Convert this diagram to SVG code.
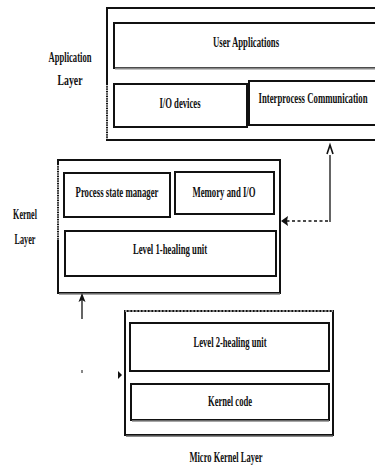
<svg xmlns="http://www.w3.org/2000/svg" width="375" height="467" viewBox="0 0 375 467">
<style>
.box{fill:#fff;stroke:#111;stroke-width:2}
.t{font-family:"Liberation Serif",serif;font-size:14px;fill:#111;text-anchor:middle;font-weight:bold}
.conn{fill:none;stroke:#111;stroke-width:1.3}
</style>
<rect width="375" height="467" fill="#fff"/>

<g id="application-layer">
<rect class="box" x="107" y="8" width="269" height="132"/>
<line x1="107" y1="85" x2="107" y2="140" stroke="#fff" stroke-width="1.5" stroke-dasharray="1.2 1.2"/>
<g transform="translate(70,62) scale(0.58,1)"><text class="t" textLength="74" lengthAdjust="spacingAndGlyphs">Application</text></g>
<g transform="translate(70,85) scale(0.58,1)"><text class="t" textLength="43" lengthAdjust="spacingAndGlyphs">Layer</text></g>
</g>
<g id="user-applications">
<rect class="box" x="114" y="23" width="262" height="45"/>
<line x1="115" y1="68.5" x2="375" y2="68.5" stroke="#888" stroke-width="2"/>
<g transform="translate(246,47) scale(0.58,1)"><text class="t" textLength="114" lengthAdjust="spacingAndGlyphs">User Applications</text></g>
</g>
<g id="io-devices">
<rect class="box" x="114" y="84" width="133" height="43"/>
<g transform="translate(180,108) scale(0.58,1)"><text class="t" textLength="71" lengthAdjust="spacingAndGlyphs">I/O devices</text></g>
</g>
<g id="ipc">
<rect class="box" x="249" y="81" width="127" height="44"/>
<g transform="translate(313,103) scale(0.58,1)"><text class="t" textLength="188" lengthAdjust="spacingAndGlyphs">Interprocess Communication</text></g>
</g>

<g id="kernel-layer">
<rect class="box" x="58" y="160" width="222" height="133"/>
<line x1="58" y1="165" x2="58" y2="240" stroke="#fff" stroke-width="1.5" stroke-dasharray="1.2 1.2"/>
<line x1="59" y1="294" x2="280" y2="294" stroke="#888" stroke-width="1.5"/>
<g transform="translate(25,219) scale(0.58,1)"><text class="t" textLength="41" lengthAdjust="spacingAndGlyphs">Kernel</text></g>
<g transform="translate(25,244) scale(0.58,1)"><text class="t" textLength="36" lengthAdjust="spacingAndGlyphs">Layer</text></g>
</g>
<g id="process-state-manager">
<rect class="box" x="64" y="173" width="106" height="44"/>
<g transform="translate(117,197) scale(0.58,1)"><text class="t" textLength="143" lengthAdjust="spacingAndGlyphs">Process state manager</text></g>
</g>
<g id="memory-io">
<rect class="box" x="175" y="172" width="99" height="42"/>
<g transform="translate(224,197) scale(0.58,1)"><text class="t" textLength="109" lengthAdjust="spacingAndGlyphs">Memory and I/O</text></g>
</g>
<g id="level1">
<rect class="box" x="65" y="231" width="211" height="45"/>
<g transform="translate(170,254) scale(0.58,1)"><text class="t" textLength="128" lengthAdjust="spacingAndGlyphs">Level 1-healing unit</text></g>
</g>

<g id="micro-kernel-layer">
<rect class="box" x="125" y="311" width="208" height="124"/>
<line x1="125" y1="311" x2="333" y2="311" stroke="#fff" stroke-width="1.2" stroke-dasharray="2 1.5"/>
<line x1="126" y1="436" x2="333" y2="436" stroke="#666" stroke-width="1.5"/>
<g transform="translate(226,462) scale(0.58,1)"><text class="t" textLength="126" lengthAdjust="spacingAndGlyphs">Micro Kernel Layer</text></g>
</g>
<g id="level2">
<rect class="box" x="130" y="323" width="199" height="48"/>
<g transform="translate(230,347) scale(0.58,1)"><text class="t" textLength="126" lengthAdjust="spacingAndGlyphs">Level 2-healing unit</text></g>
</g>
<g id="kernel-code">
<rect class="box" x="131" y="384" width="198" height="36"/>
<line x1="132" y1="421" x2="329" y2="421" stroke="#888" stroke-width="1.5"/>
<g transform="translate(230,406) scale(0.58,1)"><text class="t" textLength="76" lengthAdjust="spacingAndGlyphs">Kernel code</text></g>
</g>

<g id="connectors">
<line class="conn" x1="330" y1="222" x2="330" y2="155"/>
<path d="M327,154 L330,145 L333,154" fill="none" stroke="#111" stroke-width="1.6"/>
<line class="conn" x1="328" y1="221" x2="286" y2="221" stroke-width="2" stroke-dasharray="3 2.5"/>
<path d="M281,221 L288,216 L287,221 L288,226 Z" fill="#111"/>
<line class="conn" x1="82" y1="319" x2="82" y2="297" stroke-width="1.5"/>
<path d="M82,293 L78.5,302 L82,300 L85.5,302 Z" fill="#111"/>
<line x1="82" y1="370" x2="82" y2="373" stroke="#111" stroke-width="1"/>
<path d="M118,371 L122,375 L118,379 Z" fill="#111"/>
</g>
</svg>
